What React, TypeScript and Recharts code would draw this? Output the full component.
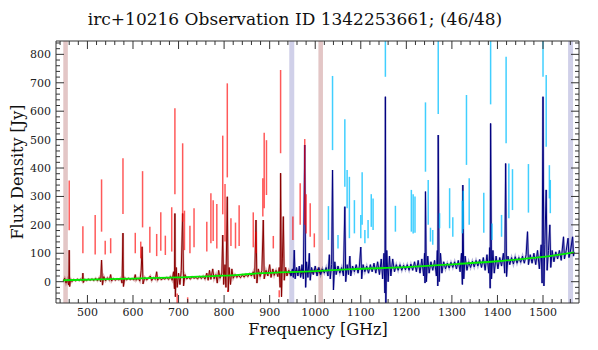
import React from 'react';
import {
  ComposedChart,
  Line,
  XAxis,
  YAxis,
  ReferenceLine,
  ReferenceArea,
} from 'recharts';

// SLW spectrum (GHz, Jy)
const slwSpectrum: [number, number][] = [
  [447, 2], [450, 12], [453, -5], [456, 8], [459, -12], [460, 111], [461, -17], [463, 10], [466, 0], [470, 8],
  [474, 3], [478, 9], [482, 4], [486, 10], [489, 2], [490, 30], [491, -3], [494, 8], [498, 4], [502, 9],
  [506, 5], [510, 10], [514, 4], [518, 12], [522, 3], [526, 14], [529, 0], [531, 76], [533, -12], [536, 18],
  [540, 3], [544, 14], [548, 5], [551, 25], [553, 2], [557, 11], [561, 5], [565, 10], [569, 6], [573, 13],
  [576, -5], [578, 171], [579, -17], [582, 14], [586, 6], [590, 12], [594, 7], [598, 11], [602, 6], [605, 25],
  [607, 5], [611, 13], [615, 2], [618, 40], [620, 123], [622, -8], [626, 15], [630, 6], [634, 12], [638, 20],
  [641, 4], [645, 14], [649, 8], [652, 35], [654, 5], [658, 14], [662, 7], [666, 12], [670, 9], [674, 15],
  [678, 8], [682, 18], [686, 5], [689, 35], [691, -25], [692, 240], [693, -53], [695, 50], [697, -20], [700, 30],
  [703, -10], [706, 40], [709, 240], [711, -15], [714, 25], [718, 10], [722, 15], [726, 9], [730, 17], [734, 12],
  [738, 15], [742, 10], [746, 18], [750, 11], [754, 20], [758, 9], [762, 30], [765, 5], [768, 40], [771, 8],
  [775, 45], [778, 10], [782, 25], [785, -5], [788, 40], [791, 12], [795, 30], [797, 164], [799, -10], [802, 60],
  [804, -20], [807, 299], [809, -35], [811, 50], [814, -10], [817, 45], [820, 12], [824, 25], [828, 15], [832, 22],
  [836, 14], [840, 24], [844, 16], [848, 26], [852, 18], [856, 28], [860, 20], [864, 35], [867, 10], [870, 217],
  [872, -5], [875, 45], [879, 18], [883, 40], [886, 217], [888, 10], [892, 40], [896, 20], [900, 60], [903, 15],
  [907, 45], [910, 22], [914, 40], [918, 18], [921, 50], [923, -20], [924, 382], [926, -53], [928, 80], [930, 229],
  [932, 5], [935, 50], [938, 20], [942, 40], [946, 25], [950, 38], [954, 28], [958, 40], [962, 30], [966, 42],
  [970, 28], [974, 40], [978, 30], [982, 40], [986, 32], [990, 38], [994, 30], [998, 40], [1002, 33], [1006, 45],
  [1010, 30], [1014, 42], [1018, 35],
];

// SSW spectrum (GHz, Jy)
const sswSpectrum: [number, number][] = [
  [944, 35], [947, 20], [950, 45], [952, 15], [954, 111], [956, 10], [959, 50], [962, 20], [965, 55], [968, 15],
  [971, 60], [974, 10], [977, 481], [979, -20], [981, 70], [984, 15], [987, 100], [989, 5], [992, 50], [996, 25],
  [1000, 55], [1004, 20], [1008, 50], [1012, 25], [1016, 45], [1020, 30], [1024, 50], [1028, 20], [1031, 95], [1033, 10],
  [1036, 60], [1038, 393], [1040, -29], [1043, 70], [1046, 25], [1050, 55], [1054, 30], [1058, 50], [1062, 20], [1065, 264],
  [1067, 0], [1070, 60], [1073, 25], [1076, 90], [1078, 20], [1082, 55], [1086, 35], [1090, 60], [1094, 30], [1097, 55],
  [1100, 122], [1102, 10], [1105, 60], [1109, 35], [1113, 55], [1117, 30], [1121, 60], [1125, 35], [1129, 65], [1133, 30],
  [1137, 70], [1141, 25], [1145, 80], [1148, 10], [1151, 100], [1153, -40], [1154, 651], [1155, -75], [1157, 110], [1160, 0],
  [1163, 90], [1166, 20], [1170, 80], [1174, 35], [1178, 60], [1182, 40], [1186, 60], [1190, 40], [1194, 58], [1198, 42],
  [1202, 60], [1206, 40], [1210, 62], [1214, 40], [1218, 70], [1222, 35], [1226, 75], [1230, 30], [1234, 80], [1238, 20],
  [1240, 100], [1241, -5], [1242, 317], [1244, 0], [1247, 90], [1250, 30], [1254, 70], [1258, 40], [1262, 75], [1266, 20],
  [1268, 110], [1269, -15], [1270, 516], [1272, 0], [1275, 100], [1278, 30], [1282, 70], [1286, 45], [1290, 65], [1294, 48],
  [1298, 68], [1302, 50], [1306, 70], [1310, 45], [1314, 75], [1318, 35], [1321, 100], [1323, -10], [1324, 340], [1326, 10],
  [1329, 90], [1333, 40], [1337, 70], [1341, 50], [1345, 72], [1349, 52], [1353, 75], [1357, 55], [1361, 78], [1365, 50],
  [1369, 85], [1373, 40], [1377, 95], [1381, 30], [1383, 120], [1384, -23], [1385, 557], [1387, 10], [1390, 110], [1393, 30],
  [1397, 90], [1401, 45], [1405, 85], [1409, 55], [1413, 100], [1416, 30], [1418, 416], [1420, 18], [1423, 90], [1427, 60],
  [1431, 85], [1435, 62], [1439, 88], [1443, 65], [1447, 85], [1451, 68], [1455, 90], [1459, 65], [1463, 95], [1466, 176],
  [1468, 60], [1472, 95], [1476, 65], [1480, 100], [1484, 60], [1488, 110], [1492, 45], [1496, 130], [1498, -5], [1500, 651],
  [1502, -15], [1504, 130], [1507, 323], [1509, 40], [1512, 110], [1515, 200], [1517, 50], [1520, 110], [1524, 70], [1528, 105],
  [1532, 80], [1536, 110], [1540, 75], [1545, 158], [1547, 80], [1551, 110], [1555, 153], [1557, 85], [1561, 115], [1565, 158],
  [1567, 90], [1568, 105],
];

// continuum fit
const continuum: [number, number][] = [
  [447, 5], [600, 11], [700, 15], [800, 21], [872, 29], [1000, 37], [1080, 44],
  [1200, 51], [1310, 62], [1400, 72], [1500, 87], [1568, 103],
];

// line markers: [freq, low, high]
const slwMarkers: [number, number, number][] = [
  [460, 181, 356], [490, 100, 195], [517, 96, 235], [531, 176, 360], [539, 96, 144], [551, 100, 153],
  [578, 238, 434], [605, 100, 172], [617, 82, 141], [621, 191, 389], [637, 102, 193], [652, 90, 168],
  [661, 109, 244], [671, 94, 162], [685, 106, 262], [692, 308, 610], [709, 211, 487], [713, 111, 250],
  [725, 100, 197], [734, 121, 258], [762, 106, 211], [771, 135, 311], [776, 143, 287], [784, 117, 273],
  [797, 237, 514], [802, 141, 344], [807, 367, 698], [815, 126, 223], [825, 117, 208], [833, 126, 269],
  [864, 121, 244], [870, 100, 176], [885, 229, 364], [888, 258, 524], [893, 305, 498], [908, 117, 161],
  [924, 452, 745], [951, 147, 229], [967, 200, 346], [977, 200, 502], [980, 170, 308], [989, 158, 276],
  [998, 121, 170], [697, -90, -42], [720, -90, -55], [808, -36, -30], [921, -55, -30],
];

const sswMarkers: [number, number, number][] = [
  [1029, 147, 266], [1038, 463, 724], [1050, 117, 164], [1065, 334, 572], [1070, 258, 393], [1075, 153, 369],
  [1086, 170, 287], [1100, 153, 235], [1103, 200, 385], [1109, 135, 182], [1116, 153, 217], [1123, 193, 308],
  [1127, 182, 293], [1154, 721, 900], [1176, 176, 267], [1211, 176, 323], [1215, 170, 308], [1219, 172, 300],
  [1242, 387, 631], [1248, 200, 358], [1253, 141, 190], [1258, 130, 182], [1270, 590, 900], [1273, 188, 241],
  [1295, 188, 329], [1302, 158, 227], [1323, 170, 285], [1325, 185, 320], [1332, 411, 657], [1338, 200, 364],
  [1370, 172, 313], [1385, 624, 900], [1388, 147, 205], [1409, 158, 235], [1419, 487, 792], [1425, 223, 416],
  [1433, 252, 396], [1468, 243, 414], [1500, 721, 900], [1507, 475, 727], [1514, 293, 410], [1516, 241, 358],
];

// band edges [from, to, colour]
const bands: [number, number, string][] = [
  [447, 457, '#dcb8b8'], [943, 954, '#c4c4e4'], [1007, 1017, '#dcb8b8'], [1555, 1566, '#c4c4e4'],
];

const xTicks: number[] = [];
for (let v = 440; v <= 1570; v += 20) xTicks.push(v);
const yTicks: number[] = [];
for (let v = -60; v <= 840; v += 20) yTicks.push(v);

const X_DOMAIN: [number, number] = [431, 1579];
const Y_DOMAIN: [number, number] = [-75, 847];
const FONT = '"DejaVu Serif", "Liberation Serif", serif';
const AXIS = '#333';

const toPts = (arr: [number, number][]) => arr.map(([x, y]) => ({ x, y }));

const XTick = (props: any) => {
  const { x, y, payload, top } = props;
  const major = payload.value % 100 === 0;
  const len = major ? 8 : 4;
  return (
    <g>
      <line x1={x} x2={x} y1={y} y2={top ? y + len : y - len} stroke={AXIS} strokeWidth={1} />
      {!top && major && (
        <text x={x} y={y + 13} textAnchor="middle" fontSize={11} fontFamily={FONT} fill="#222">
          {payload.value}
        </text>
      )}
    </g>
  );
};

const YTick = (props: any) => {
  const { x, y, payload, right } = props;
  const major = payload.value % 100 === 0;
  const len = major ? 8 : 4;
  return (
    <g>
      <line x1={x} x2={right ? x - len : x + len} y1={y} y2={y} stroke={AXIS} strokeWidth={1} />
      {!right && major && (
        <text x={x - 5} y={y + 4} textAnchor="end" fontSize={11} fontFamily={FONT} fill="#222">
          {payload.value}
        </text>
      )}
    </g>
  );
};

export default function App() {
  const slw = toPts(slwSpectrum);
  const ssw = toPts(sswSpectrum);
  const cont = toPts(continuum);

  return (
    <div style={{ position: 'absolute', left: 0, top: 0, width: 598, height: 350, background: '#fff' }}>
      <div
        style={{
          position: 'absolute', left: 0, width: 590, top: 9, textAlign: 'center',
          fontFamily: FONT, fontSize: 17, lineHeight: '20px', color: '#111',
        }}
      >
        irc+10216 Observation ID 1342253661; (46/48)
      </div>
      <ComposedChart
        width={598}
        height={350}
        margin={{ top: 31, right: 9, bottom: 17, left: 16 }}
      >
        <XAxis
          dataKey="x"
          type="number"
          domain={X_DOMAIN}
          allowDataOverflow
          ticks={xTicks}
          interval={0}
          height={30}
          tickSize={0}
          tickMargin={0}
          tickLine={false}
          axisLine={{ stroke: AXIS }}
          tick={(p: any) => <XTick {...p} />}
        />
        <XAxis
          xAxisId="top"
          orientation="top"
          dataKey="x"
          type="number"
          domain={X_DOMAIN}
          allowDataOverflow
          ticks={xTicks}
          interval={0}
          height={10}
          tickSize={0}
          tickMargin={0}
          tickLine={false}
          axisLine={{ stroke: AXIS }}
          tick={(p: any) => <XTick {...p} top />}
        />
        <YAxis
          type="number"
          domain={Y_DOMAIN}
          allowDataOverflow
          ticks={yTicks}
          interval={0}
          width={40}
          tickSize={0}
          tickMargin={0}
          tickLine={false}
          axisLine={{ stroke: AXIS }}
          tick={(p: any) => <YTick {...p} />}
        />
        <YAxis
          yAxisId="right"
          orientation="right"
          type="number"
          domain={Y_DOMAIN}
          allowDataOverflow
          ticks={yTicks}
          interval={0}
          width={10}
          tickSize={0}
          tickMargin={0}
          tickLine={false}
          axisLine={{ stroke: AXIS }}
          tick={(p: any) => <YTick {...p} right />}
        />

        {bands.map(([a, b, c], i) => (
          <ReferenceArea key={'b' + i} x1={a} x2={b} fill={c} fillOpacity={0.8} stroke="none" ifOverflow="hidden" />
        ))}

        <Line data={slw} dataKey="y" stroke="#8b0000" strokeOpacity={0.3} strokeWidth={2.2} dot={false} isAnimationActive={false} />
        <Line data={ssw} dataKey="y" stroke="#000080" strokeOpacity={0.3} strokeWidth={2.2} dot={false} isAnimationActive={false} />
        <Line data={slw} dataKey="y" stroke="#8b0000" strokeWidth={1} dot={false} isAnimationActive={false} />
        <Line data={ssw} dataKey="y" stroke="#000080" strokeWidth={1} dot={false} isAnimationActive={false} />

        {slwMarkers.map(([f, lo, hi], i) => (
          <ReferenceLine
            key={'r' + i}
            segment={[{ x: f, y: lo }, { x: f, y: hi }]}
            stroke="#ff0000"
            strokeOpacity={0.65}
            strokeWidth={1.5}
            ifOverflow="hidden"
          />
        ))}
        {sswMarkers.map(([f, lo, hi], i) => (
          <ReferenceLine
            key={'c' + i}
            segment={[{ x: f, y: lo }, { x: f, y: hi }]}
            stroke="#00bfff"
            strokeOpacity={0.75}
            strokeWidth={1.5}
            ifOverflow="hidden"
          />
        ))}

        <Line data={cont} dataKey="y" type="monotone" stroke="#00ee00" strokeWidth={1.8} dot={false} isAnimationActive={false} />
      </ComposedChart>
      <div
        style={{
          position: 'absolute', left: 56, width: 524, top: 321, textAlign: 'center',
          fontFamily: FONT, fontSize: 16, lineHeight: '18px', color: '#111',
        }}
      >
        Frequency [GHz]
      </div>
      <div style={{ position: 'absolute', left: 18, top: 172, width: 0, height: 0 }}>
        <div
          style={{
            position: 'absolute', left: -100, top: -10, width: 200, textAlign: 'center',
            transform: 'rotate(-90deg)', fontFamily: FONT, fontSize: 16, lineHeight: '20px', color: '#111',
          }}
        >
          Flux Density [Jy]
        </div>
      </div>
    </div>
  );
}
